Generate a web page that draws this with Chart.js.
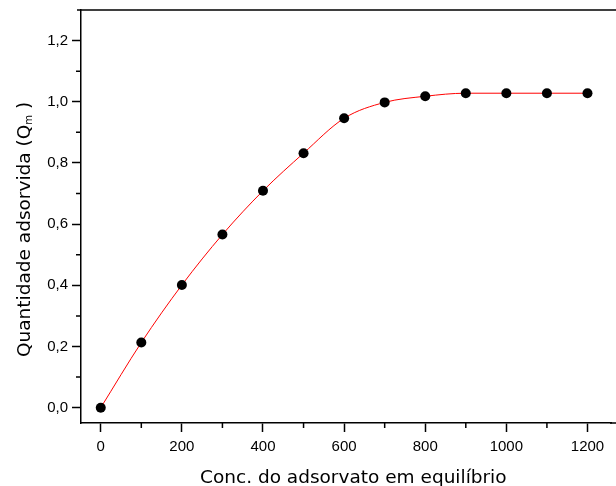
<!DOCTYPE html>
<html lang="pt">
<head>
  <meta charset="UTF-8">
  <title>Quantidade adsorvida vs concentração</title>
  <script src="https://cdn.jsdelivr.net/npm/chart.js"></script>
  <style>
    body {
      margin: 0;
      background: #fff;
    }
    canvas {
      display: block;
    }
  </style>
</head>
<body>
  <canvas id="isoChart" width="616" height="486"></canvas>

  <script>
    // valores
    const concValues = [0, 100, 200, 300, 400, 500, 600, 700, 800, 900, 1000, 1100, 1200];
    const qmValues = [0, 0.213, 0.401, 0.566, 0.709, 0.832, 0.946, 0.998, 1.018, 1.028, 1.028, 1.028, 1.028];

    const xTicks = [0, 200, 400, 600, 800, 1000, 1200];
    const xMinorTicks = [100, 300, 500, 700, 900, 1100];
    const yTicks = [0, 0.2, 0.4, 0.6, 0.8, 1.0, 1.2];
    const yMinorTicks = [0.1, 0.3, 0.5, 0.7, 0.9, 1.1];

    const xTitle = 'Conc. do adsorvato em equilíbrio';
    const yTitle = 'Quantidade adsorvida (Q';
    const yTitleSub = 'm';

    const titleFont = '18.5px "DejaVu Sans"';

    // ticks menores, linha de cima e títulos dos eixos
    const framePlugin = {
      id: 'frame',
      afterDraw(chart) {
        const ctx = chart.ctx;
        const area = chart.chartArea;
        const xs = chart.scales.x;
        const ys = chart.scales.y;
        ctx.save();
        ctx.strokeStyle = '#000';
        ctx.lineWidth = 1.5;
        ctx.beginPath();
        ctx.moveTo(area.left - 4, area.top);
        ctx.lineTo(chart.width, area.top);
        ctx.moveTo(area.right - 1, area.bottom);
        ctx.lineTo(chart.width, area.bottom);
        ctx.stroke();

        ctx.beginPath();
        xMinorTicks.forEach(v => {
          const px = xs.getPixelForValue(v);
          ctx.moveTo(px, area.bottom);
          ctx.lineTo(px, area.bottom + 5);
        });
        yMinorTicks.forEach(v => {
          const py = ys.getPixelForValue(v);
          ctx.moveTo(area.left, py);
          ctx.lineTo(area.left - 5, py);
        });
        ctx.stroke();

        ctx.fillStyle = '#000';
        ctx.font = titleFont;
        ctx.textBaseline = 'alphabetic';
        ctx.textAlign = 'left';
        ctx.fillText(xTitle, 200, 483);

        ctx.translate(30, 357);
        ctx.rotate(-Math.PI / 2);
        ctx.fillText(yTitle, 0, 0);
        let w = ctx.measureText(yTitle).width;
        ctx.font = '10px "DejaVu Sans"';
        ctx.fillText(yTitleSub, w, 2);
        w += ctx.measureText(yTitleSub).width;
        ctx.font = titleFont;
        ctx.fillText(' )', w, 0);
        ctx.restore();
      }
    };

    const ctx = document.getElementById('isoChart').getContext('2d');

    const isoChart = new Chart(ctx, {
      type: 'line',
      data: {
        datasets: [{
          data: concValues.map((c, i) => ({ x: c, y: qmValues[i] })),
          borderColor: '#ff0000',
          borderWidth: 1,
          cubicInterpolationMode: 'monotone',
          pointRadius: 5,
          pointHoverRadius: 5,
          pointBackgroundColor: '#000',
          pointBorderColor: '#000',
          pointBorderWidth: 0,
          fill: false
        }]
      },
      options: {
        responsive: false,
        animation: false,
        events: [],
        layout: {
          padding: { top: 10, left: 0, right: 0, bottom: 0 }
        },
        plugins: {
          legend: { display: false },
          tooltip: { enabled: false }
        },
        scales: {
          x: {
            type: 'linear',
            min: -48.7,
            max: 1258,
            afterBuildTicks: scale => { scale.ticks = xTicks.map(v => ({ value: v })); },
            afterFit: scale => {
              scale.height = 63;
              scale.paddingLeft = 0;
              scale.paddingRight = 0;
            },
            border: { display: true, color: '#000', width: 1.5 },
            grid: {
              drawOnChartArea: false,
              drawTicks: true,
              tickLength: 9,
              tickColor: '#000',
              tickWidth: 1.5
            },
            ticks: {
              color: '#000',
              padding: 6,
              maxRotation: 0,
              font: { family: 'Liberation Sans', size: 15 },
              callback: v => String(v)
            }
          },
          y: {
            min: -0.05,
            max: 1.3,
            afterBuildTicks: scale => { scale.ticks = yTicks.map(v => ({ value: v })); },
            afterFit: scale => {
              scale.width = 81;
              scale.paddingTop = 0;
              scale.paddingBottom = 0;
            },
            border: { display: true, color: '#000', width: 1.5 },
            grid: {
              drawOnChartArea: false,
              drawTicks: true,
              tickLength: 9,
              tickColor: '#000',
              tickWidth: 1.5
            },
            ticks: {
              color: '#000',
              padding: 4,
              font: { family: 'Liberation Sans', size: 15 },
              callback: v => v.toFixed(1).replace('.', ',')
            }
          }
        }
      },
      plugins: [framePlugin]
    });
  </script>
</body>
</html>
